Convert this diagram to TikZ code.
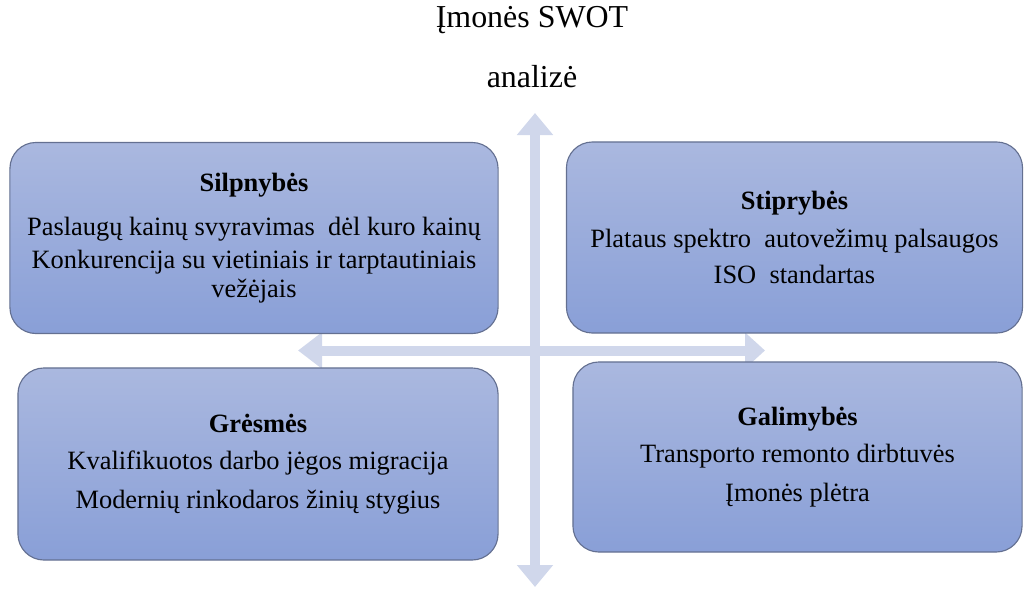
\documentclass[tikz,border=0pt]{standalone}
\usepackage{fontspec}
\setmainfont{Liberation Serif}
\usetikzlibrary{arrows.meta}
\definecolor{axiscol}{RGB}{208,215,235}
\definecolor{boxtop}{RGB}{170,184,223}
\definecolor{boxbot}{RGB}{137,159,215}
\definecolor{boxline}{RGB}{100,112,145}
\tikzset{
  swotbox/.style={draw=boxline,line width=0.8pt,rounded corners=0.65cm,
    top color=boxtop,bottom color=boxbot,align=center,
    font=\fontsize{18.8}{20}\selectfont,inner sep=0pt},
  axis/.style={axiscol,line width=0.25cm},
  title/.style={font=\fontsize{22.7}{24}\selectfont,inner sep=0pt}
}
\begin{document}
\begin{tikzpicture}[x=0.025cm,y=-0.025cm]
  \useasboundingbox (0,0) rectangle (1035,588);
  \node[title] (t1) at (532,20) {Įmonės SWOT};
  \node[title] (t2) at (532,77) {analizė};
  % axes
  \coordinate (top) at (535,113);
  \coordinate (bot) at (535,587);
  \coordinate (lft) at (298,350.5);
  \coordinate (rgt) at (765,350.5);
  \draw[axis,{Triangle[width=0.875cm,length=0.55cm]}-{Triangle[width=0.875cm,length=0.55cm]}] (top) -- (bot);
  \draw[axis,{Triangle[width=0.875cm,length=0.6cm]}-{Triangle[width=0.875cm,length=0.5cm]}] (lft) -- (rgt);
  % quadrants
  \node[swotbox,minimum width=12.2cm,minimum height=4.775cm] (weak) at (254,238)
    {\textbf{Silpnybės}\\[11pt]Paslaugų kainų svyravimas~ dėl kuro kainų\\[4pt]
     Konkurencija su vietiniais ir tarptautiniais\\vežėjais};
  \node[swotbox,minimum width=11.4cm,minimum height=4.775cm] (strong) at (794.5,237.5)
    {\textbf{Stiprybės}\\[7pt]Plataus spektro~ autovežimų palsaugos\\[6pt]ISO~ standartas};
  \node[swotbox,minimum width=12cm,minimum height=4.8cm] (threat) at (258,464)
    {\textbf{Grėsmės}\\[6.5pt]Kvalifikuotos darbo jėgos migracija\\[7.5pt]Modernių rinkodaros žinių stygius};
  \node[swotbox,minimum width=11.225cm,minimum height=4.75cm] (opport) at (797.5,457)
    {\textbf{Galimybės}\\[6.5pt]Transporto remonto dirbtuvės\\[7.5pt]Įmonės plėtra};
\end{tikzpicture}
\end{document}
